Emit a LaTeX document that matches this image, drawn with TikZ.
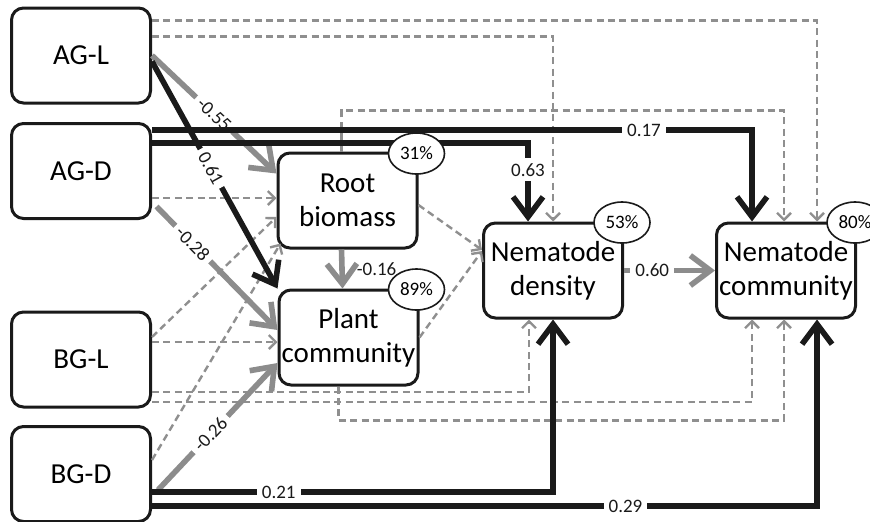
\documentclass[tikz,border=0pt]{standalone}
\usepackage{fontspec}
\setmainfont{Carlito}
\usetikzlibrary{arrows.meta,shapes.geometric}

\definecolor{sigblack}{HTML}{1A1A1A}
\definecolor{neggray}{HTML}{8C8C8C}
\definecolor{nsgray}{HTML}{8F8F8F}

\begin{document}
\begin{tikzpicture}[
  x=0.5pt, y=-0.5pt,
  box/.style={draw=sigblack, line width=1.5pt, rounded corners=6pt, fill=white,
              minimum width=69.5pt, minimum height=47.5pt, align=center,
              inner sep=1pt, font=\fontsize{14.5}{17}\selectfont},
  rsq/.style={ellipse, draw=sigblack, line width=0.8pt, fill=white,
              minimum width=28pt, minimum height=20.5pt, inner sep=0pt,
              font=\fontsize{9.5}{10}\selectfont},
  coef/.style={fill=white, inner sep=2.5pt, text=sigblack,
               font=\fontsize{9.5}{10}\selectfont},
  nsarrow/.style={draw=nsgray, line width=1.2pt, dash pattern=on 3.5pt off 2.2pt,
                  -{Straight Barb[length=3.5pt, width=7pt]}},
  posarrow/.style={draw=sigblack, line width=2.8pt,
                   -{Straight Barb[length=10pt, width=15pt]}},
  negarrow/.style={draw=neggray, line width=2.8pt,
                   -{Straight Barb[length=10pt, width=15pt]}}
]
  \useasboundingbox (0,0) rectangle (870,521);

  \node[box] (AGL) at (81,55.5)    {AG-L};
  \node[box] (AGD) at (81,171)     {AG-D};
  \node[box] (BGL) at (81,359.5)   {BG-L};
  \node[box] (BGD) at (81,474)     {BG-D};
  \node[box] (RB)  at (347.5,200.5) {Root\\biomass};
  \node[box] (PC)  at (348.5,337.5) {Plant\\community};
  \node[box] (ND)  at (553,270.5)  {Nematode\\density};
  \node[box] (NC)  at (786,270.5)  {Nematode\\community};

  \draw[nsarrow] ([yshift=-7pt]AGL.north east) -| ([xshift=15.5pt]NC.north);
  \draw[nsarrow] ([yshift=-15pt]AGL.north east) -| (ND.north);
  \draw[nsarrow] ([xshift=-3pt]RB.north) -- ++(0,-41) -| ([xshift=-1pt]NC.north);
  \draw[nsarrow] ([yshift=-2.25pt]RB.east) -- ([yshift=10.25pt]ND.west);
  \draw[nsarrow] (PC.east) -- ([yshift=9.75pt]ND.west);
  \draw[nsarrow] ([xshift=-5pt]PC.south) -- ++(0,34) -| ([xshift=-1pt]NC.south);
  \draw[nsarrow] ([yshift=-16.25pt]BGL.east) -| ([xshift=-12pt]ND.south);
  \draw[nsarrow] ([yshift=-21.25pt]BGL.east) -| ([xshift=-17pt]NC.south);
  \draw[nsarrow] ([yshift=-13.5pt]AGD.east) -- ([yshift=1.25pt]RB.west);
  \draw[nsarrow] ([yshift=11.25pt]BGL.east) -- ([yshift=-8.25pt]RB.west);
  \draw[nsarrow] ([yshift=8.75pt]BGL.east) -- ([yshift=-2.25pt]PC.west);
  \draw[nsarrow] ([yshift=7pt]BGD.east) -- ([shift={(2pt,3pt)}]RB.south west);

  \draw[negarrow] (AGL.east) -- ([yshift=-11pt]RB.north west)
      node[coef, sloped, pos=0.5]{-0.55};
  \draw[negarrow] ([shift={(2.25pt,6.75pt)}]AGD.south east) -- ([yshift=3.75pt]PC.west)
      node[coef, sloped, pos=0.3]{-0.28};
  \draw[negarrow] ([shift={(3pt,-8pt)}]BGD.east) -- ([yshift=-12.75pt]PC.west)
      node[coef, sloped, pos=0.44]{-0.26};
  \draw[negarrow] ([xshift=-3pt]RB.south) -- ([xshift=-3pt]PC.north)
      node[coef, fill=none, inner sep=1pt, midway, right=5pt]{-0.16};
  \draw[negarrow] (ND.east) -- (NC.west)
      node[coef, pos=0.31]{0.60};

  \draw[posarrow] ([yshift=-3pt]AGL.east) -- (PC.north west)
      node[coef, sloped, pos=0.47]{0.61};
  \draw[posarrow] ([yshift=20.5pt]AGD.east) -| ([xshift=-17pt]NC.north)
      node[coef, pos=0.41]{0.17};
  \draw[posarrow] ([yshift=14pt]AGD.east) -| ([xshift=-12.5pt]ND.north)
      node[coef, pos=0.67]{0.63};
  \draw[posarrow] ([yshift=-9pt]BGD.east) -| (ND.south)
      node[coef, pos=0.158]{0.21};
  \draw[posarrow] ([yshift=-16pt]BGD.east) -| ([xshift=15.5pt]NC.south)
      node[coef, pos=0.356]{0.29};

  \node[rsq] (RBr) at ([shift={(-1pt,-1pt)}]RB.north east)   {31\%};
  \node[rsq] (PCr) at ([shift={(-1.5pt,-0.5pt)}]PC.north east) {89\%};
  \node[rsq] (NDr) at ([shift={(-1pt,-0.5pt)}]ND.north east) {53\%};
  \node[rsq] (NCr) at ([shift={(-1pt,-0.5pt)}]NC.north east) {80\%};
\end{tikzpicture}
\end{document}
